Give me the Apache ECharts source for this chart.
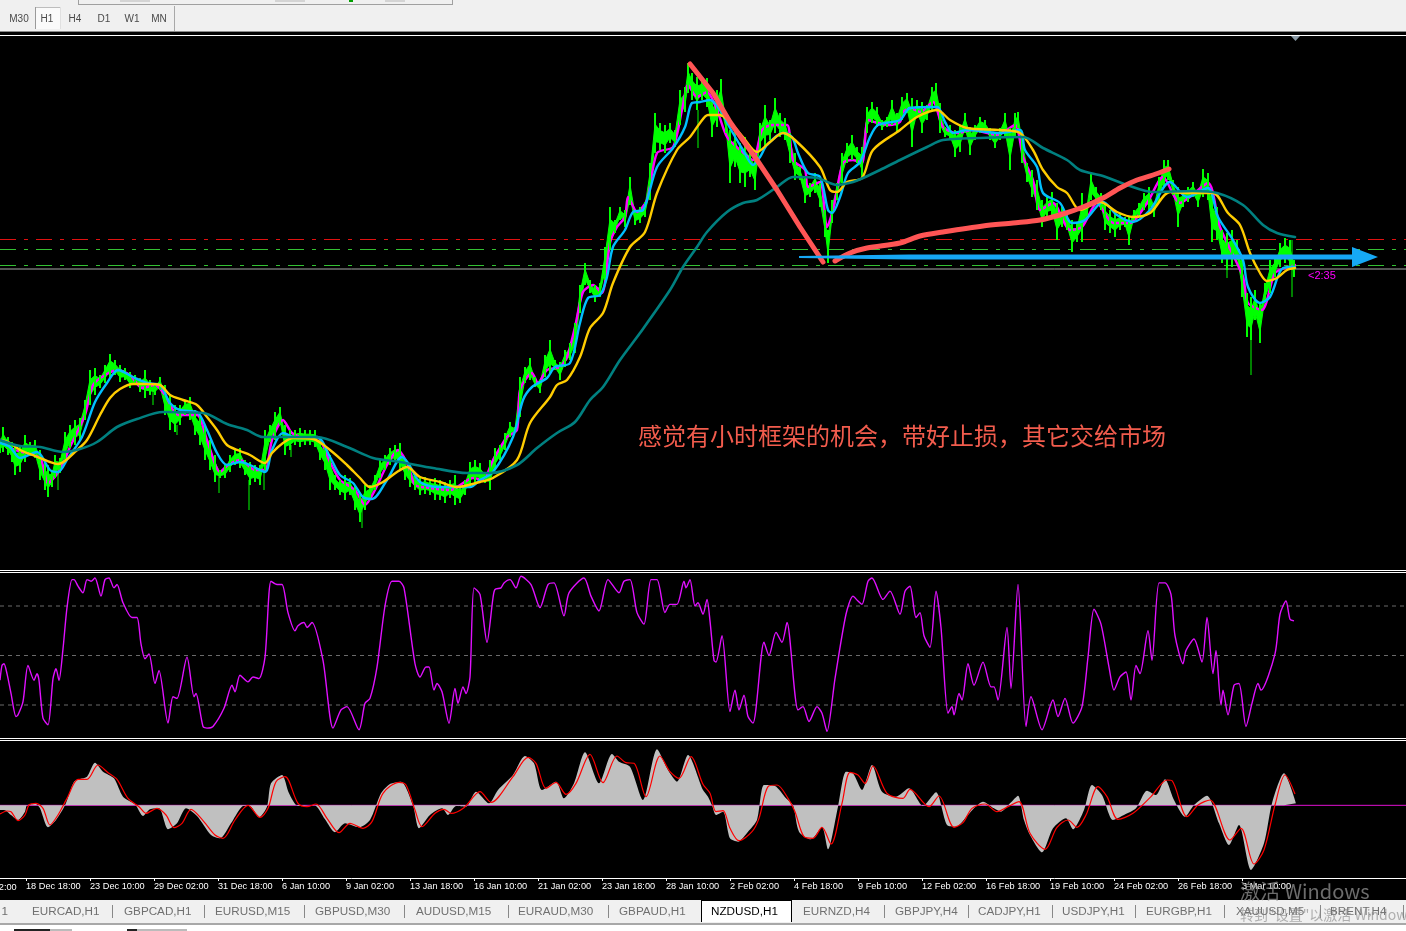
<!DOCTYPE html>
<html><head><meta charset="utf-8">
<style>html,body{margin:0;padding:0;background:#000;overflow:hidden}#c{width:1406px;height:931px}</style>
<script src="https://cdn.jsdelivr.net/npm/echarts@6/dist/echarts.min.js"></script>
</head><body><div id="c"></div>
<script>
// ---- data. X is the bar number (1 bar = one H1 candle). Price pane is in chart units. ----
const clippedFirstTick = [-38,'16 Dec 02:00'];
const timeTicks = [[26,'18 Dec 18:00'],[90,'23 Dec 10:00'],[154,'29 Dec 02:00'],[218,'31 Dec 18:00'],[282,'6 Jan 10:00'],[346,'9 Jan 02:00'],[410,'13 Jan 18:00'],[474,'16 Jan 10:00'],[538,'21 Jan 02:00'],[602,'23 Jan 18:00'],[666,'28 Jan 10:00'],[730,'2 Feb 02:00'],[794,'4 Feb 18:00'],[858,'9 Feb 10:00'],[922,'12 Feb 02:00'],[986,'16 Feb 18:00'],[1050,'19 Feb 10:00'],[1114,'24 Feb 02:00'],[1178,'26 Feb 18:00'],[1242,'3 Mar 10:00']];
const symbolTabs = ['EURCAD,H1','GBPCAD,H1','EURUSD,M15','GBPUSD,M30','AUDUSD,M15','EURAUD,M30','GBPAUD,H1','NZDUSD,H1','EURNZD,H4','GBPJPY,H4','CADJPY,H1','USDJPY,H1','EURGBP,H1','XAUUSD,M5','BRENT,H4'];
const periods = ['M30','H1','H4','D1','W1','MN'];
const noteText = '感觉有小时框架的机会，带好止损，其它交给市场';
const timerText = '<2:35';
// [bar, high, low]
const priceRange = [[0,130,117],[3,143,118],[8,133,115],[12,128,108],[15,125,95],[20,125,98],[25,135,108],[30,128,114],[35,130,112],[40,120,90],[45,108,80],[48,105,73],[52,100,83],[55,115,92],[60,112,97],[65,138,108],[70,145,122],[75,150,125],[80,152,130],[85,170,150],[90,200,165],[95,202,175],[100,195,182],[105,205,187],[110,216,192],[115,210,195],[120,205,188],[125,202,190],[130,198,182],[135,195,185],[140,192,178],[145,200,172],[150,190,175],[155,187,175],[160,193,180],[165,185,155],[170,175,140],[175,165,138],[180,165,145],[185,170,155],[190,173,150],[195,160,135],[200,155,125],[205,145,110],[210,130,100],[215,115,88],[220,100,92],[225,105,92],[230,115,98],[235,120,105],[240,122,102],[245,110,95],[250,108,85],[255,105,88],[260,105,85],[265,140,100],[270,145,128],[275,158,130],[280,163,145],[285,145,115],[290,140,120],[295,140,125],[300,142,123],[305,140,125],[310,140,125],[315,140,123],[320,130,110],[325,125,100],[330,115,80],[335,95,80],[340,90,75],[345,95,70],[350,92,75],[355,85,60],[360,75,48],[365,85,60],[370,85,70],[375,95,80],[380,110,92],[385,115,100],[390,122,105],[395,125,108],[400,127,100],[405,112,90],[410,105,83],[415,95,80],[420,92,75],[425,93,76],[430,91,75],[435,92,70],[440,90,70],[445,88,67],[450,90,72],[455,95,65],[460,82,67],[465,90,75],[470,108,83],[475,110,87],[480,107,87],[485,98,87],[490,110,80],[495,122,100],[500,125,110],[505,137,120],[510,148,133],[515,143,137],[520,193,153],[525,203,187],[530,212,190],[535,193,183],[540,190,177],[545,215,193],[550,230,197],[555,210,200],[560,208,190],[565,220,203],[570,227,210],[575,247,217],[580,285,257],[585,307,285],[590,290,277],[595,285,268],[600,287,273],[605,323,290],[610,363,320],[615,350,337],[620,363,350],[625,360,343],[630,393,365],[635,360,345],[640,363,347],[645,368,353],[650,407,370],[655,457,417],[660,447,420],[665,445,417],[670,447,427],[675,440,423],[680,480,445],[685,483,458],[688,507,477],[692,497,470],[697,493,460],[702,492,470],[707,492,463],[712,470,433],[717,480,443],[721,491,453],[726,453,437],[730,440,387],[735,440,403],[740,427,387],[745,433,383],[750,420,393],[755,413,380],[760,447,420],[765,465,423],[770,450,430],[775,472,437],[780,457,433],[785,452,430],[790,437,407],[795,417,390],[800,403,390],[805,393,367],[810,387,373],[815,397,377],[820,387,363],[825,360,333],[828,340,307],[832,370,347],[837,387,370],[842,417,387],[847,427,407],[852,435,410],[857,423,407],[862,423,392],[867,463,437],[872,468,447],[877,463,443],[882,450,440],[887,453,443],[892,470,445],[897,457,437],[902,473,450],[907,477,457],[912,472,423],[917,470,453],[922,468,437],[927,465,450],[932,483,460],[936,487,462],[940,467,437],[945,443,433],[950,445,430],[955,440,413],[960,445,418],[965,457,437],[970,443,415],[975,445,430],[980,453,437],[985,450,437],[990,442,430],[995,438,422],[1000,442,430],[1005,457,433],[1010,442,400],[1015,457,433],[1018,458,442],[1022,437,407],[1027,407,388],[1032,400,373],[1037,390,360],[1042,370,343],[1047,373,353],[1052,378,353],[1057,367,330],[1062,363,343],[1067,357,340],[1072,350,318],[1077,347,328],[1082,377,328],[1087,367,353],[1091,398,370],[1096,383,367],[1101,377,360],[1105,367,340],[1110,360,337],[1115,357,333],[1120,357,340],[1125,353,343],[1129,353,325],[1134,360,350],[1139,367,353],[1144,377,360],[1149,383,360],[1154,367,353],[1159,393,367],[1164,410,383],[1168,410,390],[1173,390,375],[1178,383,343],[1183,378,363],[1188,383,368],[1193,388,373],[1198,380,363],[1203,401,373],[1208,397,370],[1212,377,328],[1217,363,330],[1222,340,307],[1227,337,300],[1232,340,303],[1237,330,310],[1242,313,273],[1247,277,233],[1251,273,230],[1255,280,250],[1260,267,227],[1265,287,267],[1270,310,277],[1275,313,293],[1280,327,303],[1285,332,307],[1290,330,300],[1294,310,293]];
// thin single-bar wicks: [bar, from, to]
const wicks = [[58,97,80],[153,180,165],[177,145,135],[219,95,77],[249,90,60],[264,100,80],[291,125,113],[362,60,42],[698,460,422],[1227,310,292],[1251,240,195],[1292,330,273]];
const fastLine = [[0,130],[15,120],[40,112],[48,87],[60,100],[70,123],[85,155],[93,185],[105,195],[118,200],[130,195],[142,182],[155,185],[165,175],[178,155],[197,155],[207,130],[220,98],[228,105],[240,110],[255,100],[265,100],[272,130],[283,150],[292,137],[305,132],[317,133],[330,108],[340,90],[355,80],[365,65],[375,80],[387,105],[398,120],[408,105],[415,85],[430,82],[450,80],[473,92],[483,90],[493,110],[507,133],[517,140],[520,180],[532,197],[538,187],[547,200],[560,203],[567,213],[575,243],[583,278],[593,285],[602,277],[610,327],[617,343],[625,353],[628,373],[637,358],[647,370],[657,417],[673,423],[682,460],[688,485],[697,473],[707,478],[717,460],[727,433],[740,420],[753,410],[762,440],[772,445],[787,445],[793,410],[805,400],[808,383],[820,388],[827,343],[833,360],[843,407],[853,410],[862,407],[868,450],[878,447],[890,445],[900,448],[903,458],[910,462],[920,458],[933,468],[943,443],[957,437],[973,440],[997,435],[1015,445],[1023,413],[1033,390],[1040,360],[1053,367],[1070,340],[1082,343],[1097,367],[1113,347],[1130,347],[1147,367],[1163,393],[1180,367],[1208,387],[1220,343],[1243,293],[1248,267],[1262,260],[1275,297],[1288,303],[1295,305]];
const midLine = [[0,127],[10,123],[20,112],[37,118],[50,100],[58,98],[68,112],[82,133],[95,168],[107,187],[118,200],[133,193],[147,187],[160,185],[170,167],[180,160],[197,158],[207,140],[217,117],[227,105],[240,108],[250,105],[265,98],[272,120],[283,137],[297,132],[317,133],[330,113],[340,95],[353,87],[363,73],[372,71],[387,90],[402,113],[408,107],[420,88],[440,83],[457,83],[470,83],[480,90],[493,98],[513,133],[523,170],[532,183],[547,192],[555,203],[570,207],[580,247],[588,272],[600,275],[607,293],[613,323],[625,340],[633,358],[643,360],[657,403],[673,422],[685,443],[692,467],[700,468],[710,470],[720,460],[730,442],[743,420],[753,405],[760,413],[767,425],[783,437],[792,433],[798,417],[808,397],[820,393],[828,360],[832,357],[840,373],[848,397],[860,408],[870,433],[878,445],[900,450],[910,462],[937,463],[945,448],[953,437],[967,440],[1000,437],[1020,440],[1025,420],[1037,403],[1043,377],[1060,367],[1072,347],[1085,350],[1103,368],[1117,355],[1133,348],[1150,360],[1170,388],[1187,373],[1208,382],[1218,353],[1233,330],[1243,310],[1248,283],[1260,267],[1270,273],[1283,302],[1295,303]];
const slowLine = [[0,130],[10,127],[20,120],[35,114],[50,108],[58,106],[65,109],[75,118],[87,130],[100,155],[110,172],[120,181],[133,186],[147,186],[160,185],[170,175],[183,170],[197,165],[207,153],[217,140],[227,125],[240,119],[250,115],[265,107],[272,117],[283,127],[293,132],[313,131],[330,120],[347,105],[360,92],[370,83],[383,88],[397,98],[407,103],[420,93],[440,88],[457,83],[480,88],[493,92],[517,110],[530,147],[550,173],[557,185],[567,190],[580,213],[590,242],[603,257],[613,287],[630,323],[645,338],[657,377],[677,420],[690,433],[700,447],[708,455],[720,455],[730,448],[743,433],[757,418],[770,428],[783,437],[795,430],[820,403],[830,380],[837,378],[847,388],[862,392],[873,420],[900,440],[917,453],[937,460],[950,450],[967,442],[1000,440],[1020,437],[1033,420],[1043,400],[1057,383],[1067,377],[1080,360],[1100,368],[1117,358],[1133,353],[1150,357],[1170,378],[1187,377],[1213,377],[1228,357],[1240,345],[1250,317],[1260,297],[1267,289],[1277,292],[1287,300],[1295,302]];
const longLine = [[0,130],[20,124],[40,123],[63,118],[80,121],[97,128],[117,143],[137,151],[163,158],[203,157],[227,146],[247,140],[263,133],[283,133],[317,133],[347,123],[373,112],[400,108],[433,102],[467,97],[490,97],[517,105],[537,122],[557,137],[575,148],[590,170],[603,183],[620,210],[640,237],[670,280],[683,303],[697,323],[707,338],[727,358],[743,367],[757,370],[777,383],[793,393],[817,392],[837,385],[853,388],[863,392],[880,400],[900,410],[927,423],[943,430],[980,432],[1023,433],[1043,422],[1067,410],[1080,400],[1103,394],[1127,385],[1153,378],[1193,379],[1217,377],[1243,365],[1263,345],[1277,337],[1295,333]];
const redLevel = 330.5, greenLevelHigh = 320.5, greenLevelLow = 304.5, bidLevel = 301;
const drawnDown = [[690,506],[713,477],[730,448],[757,410],[777,380],[800,343],[823,308]];
const drawnUp = [[835,309],[850,317],[867,322],[900,327],[920,334],[943,338],[983,344],[1013,347],[1040,350],[1063,356],[1083,363],[1103,372],[1120,382],[1137,390],[1153,395],[1169,401]];
const arrowStart = [799,313], arrowEnd = [1378,313];
const stochLevels = [80,50,20];
const stoch = [[0,35],[2,44],[4,45],[7,39],[11,27],[16,13],[18,14],[23,22],[28,44],[34,35],[37,39],[39,35],[43,12],[48,8],[53,36],[56,42],[59,35],[63,54],[67,79],[72,96],[74,96],[78,92],[83,88],[87,96],[91,95],[95,97],[101,86],[105,96],[109,97],[114,91],[117,93],[123,82],[132,73],[137,73],[141,57],[145,48],[149,51],[155,33],[159,41],[168,9],[173,25],[177,24],[187,49],[194,25],[196,27],[203,7],[207,6],[213,7],[224,18],[232,32],[235,28],[240,38],[248,34],[253,37],[259,36],[265,49],[271,95],[277,93],[282,93],[288,76],[295,65],[298,68],[304,70],[307,67],[312,70],[323,47],[333,6],[341,17],[347,19],[359,5],[365,21],[370,24],[377,43],[385,80],[392,95],[399,95],[404,91],[415,45],[420,37],[426,43],[429,43],[434,29],[437,33],[442,28],[449,9],[455,30],[458,21],[463,31],[466,27],[470,37],[474,91],[480,87],[487,58],[493,85],[495,90],[501,91],[504,94],[510,96],[516,91],[521,98],[531,93],[540,79],[548,93],[554,94],[564,74],[569,88],[584,97],[591,86],[599,77],[608,96],[619,88],[624,95],[630,96],[637,76],[644,69],[651,96],[657,96],[665,76],[670,81],[677,81],[684,95],[686,91],[690,96],[695,80],[698,82],[703,75],[707,84],[710,71],[714,47],[716,46],[722,62],[730,16],[735,29],[739,17],[744,26],[748,13],[753,9],[764,58],[769,50],[776,64],[782,58],[787,70],[798,17],[803,19],[809,10],[817,19],[822,15],[827,4],[835,36],[846,75],[853,86],[858,83],[862,81],[868,95],[872,97],[883,84],[890,89],[900,75],[905,89],[910,92],[916,73],[920,76],[924,62],[930,55],[936,89],[941,67],[948,15],[952,19],[954,14],[959,27],[962,23],[968,45],[974,32],[983,46],[991,31],[994,31],[998,23],[1007,67],[1011,30],[1018,93],[1026,7],[1031,25],[1042,5],[1053,23],[1058,13],[1065,24],[1073,9],[1082,19],[1088,49],[1094,78],[1101,69],[1109,43],[1114,29],[1120,37],[1126,40],[1131,23],[1136,44],[1140,39],[1148,65],[1152,47],[1159,94],[1165,94],[1171,87],[1175,62],[1183,45],[1186,53],[1194,60],[1202,46],[1207,73],[1213,39],[1216,53],[1221,20],[1223,29],[1228,14],[1234,32],[1239,33],[1246,7],[1252,21],[1258,33],[1261,29],[1275,51],[1280,75],[1286,83],[1290,72],[1294,71]];
const macdHist = [[0,-14],[4,-14],[11,-29],[18,-44],[25,-19],[27,0],[36,4],[40,-9],[48,-66],[56,-44],[65,0],[74,71],[80,79],[87,86],[95,128],[103,101],[114,81],[123,26],[135,3],[143,-32],[150,-12],[159,-9],[168,-72],[177,-54],[186,-9],[197,-32],[211,-89],[220,-99],[231,-54],[244,-1],[251,-4],[259,-36],[267,-4],[271,66],[282,91],[289,36],[298,-2],[314,1],[325,-42],[335,-81],[345,-54],[359,-66],[370,-44],[381,36],[390,64],[401,71],[413,0],[419,-69],[430,-29],[442,-9],[448,-29],[456,-2],[466,-4],[476,41],[489,6],[498,46],[513,91],[525,148],[534,126],[542,46],[556,71],[564,21],[574,66],[585,159],[599,66],[612,154],[619,131],[630,116],[643,16],[657,168],[668,106],[677,71],[688,151],[703,46],[708,26],[712,0],[716,-29],[723,-19],[730,-99],[738,-109],[748,-79],[757,-44],[764,61],[775,58],[786,21],[793,0],[799,-79],[811,-102],[822,-66],[828,-132],[838,-4],[846,101],[853,96],[862,46],[872,121],[882,41],[896,26],[909,51],[923,-2],[936,39],[947,-59],[956,-64],[968,-29],[974,-9],[983,11],[994,-9],[1001,-19],[1010,6],[1018,29],[1024,-44],[1030,-89],[1042,-141],[1053,-69],[1066,-39],[1073,-72],[1084,-14],[1092,61],[1102,31],[1113,-44],[1124,-29],[1136,-9],[1147,44],[1156,31],[1165,78],[1174,16],[1185,-34],[1194,1],[1207,29],[1219,-54],[1229,-119],[1239,-59],[1251,-194],[1264,-114],[1272,6],[1284,96],[1296,6]];
const macdSignal = [[0,-26],[7,-17],[11,-19],[18,-46],[25,-29],[29,1],[36,6],[43,-9],[50,-59],[58,-29],[67,21],[78,78],[87,78],[98,121],[108,98],[117,78],[128,21],[139,-4],[146,-24],[157,-9],[166,-29],[174,-67],[182,-54],[191,-12],[202,-42],[215,-89],[223,-99],[235,-44],[248,0],[260,-36],[268,-9],[276,71],[285,86],[298,6],[307,-4],[316,4],[327,-39],[339,-82],[350,-54],[363,-69],[372,-49],[383,36],[399,69],[406,61],[415,-14],[422,-64],[435,-24],[444,-12],[451,-24],[464,-7],[480,41],[491,9],[513,86],[528,144],[536,126],[546,51],[556,69],[566,33],[576,66],[590,153],[603,68],[617,148],[626,128],[634,126],[646,26],[660,148],[670,101],[679,81],[691,146],[703,63],[710,36],[716,-19],[723,-16],[730,-69],[739,-106],[752,-79],[759,-39],[768,56],[777,61],[788,21],[795,-19],[804,-94],[813,-99],[822,-66],[831,-116],[842,6],[850,99],[858,91],[865,66],[873,118],[887,36],[903,21],[910,48],[929,-4],[939,28],[954,-66],[963,-52],[972,-9],[985,4],[997,-19],[1008,-4],[1019,11],[1030,-84],[1045,-132],[1057,-66],[1068,-44],[1077,-66],[1086,-29],[1098,56],[1107,26],[1118,-42],[1133,-24],[1151,26],[1167,76],[1172,74],[1187,-34],[1198,1],[1210,16],[1230,-104],[1241,-69],[1254,-176],[1264,-134],[1275,1],[1285,91],[1295,34]];

// ---- layout & style ----
const X_MIN=0, X_MAX=1406;
const LAB='"Liberation Sans",Arial,sans-serif';
const tabX=[32,124,215,315,416,518,619,711,803,895,978,1062,1146,1236,1330];
const tabSeps=[112,204,304,404,508,608,884,968,1052,1135,1224,1320,1403];
const periodX=[19,47,75,104,132,159];
const tickLabel = Object.fromEntries(timeTicks);

const rect=(x,y,w,h,fill,z)=>({type:'rect',shape:{x,y,width:w,height:h},style:{fill},z:z||1,silent:true});
const txt=(x,y,text,font,fill,align,z)=>({type:'text',x,y,style:{text,font,fill,textAlign:align||'left',textVerticalAlign:'middle'},z:z||5,silent:true});
const g=[
  rect(0,0,1406,31,'#f0f0f0'),
  rect(78,4,375,1,'#a0a0a0',2), rect(78,0,1,4,'#a0a0a0',2), rect(452,0,1,5,'#a0a0a0',2),
  rect(349,0,4,2,'#00a000',2), rect(120,0,30,2,'#d4d4d4',2), rect(275,0,30,2,'#d4d4d4',2), rect(385,0,20,2,'#d4d4d4',2),
  rect(35,7,25,22,'#fafafa',2), rect(35,7,25,1,'#bdbdbd',3), rect(35,7,1,22,'#9a9a9a',3), rect(60,7,1,22,'#e0e0e0',3),
  rect(174,6,1,25,'#a8a8a8',2),
  rect(0,31,1406,1,'#8a8a8a',2), rect(0,32,1406,3,'#000',2), rect(0,35,1406,1,'#fff',2),
  {type:'polygon',shape:{points:[[1291,36],[1300,36],[1295.5,41]]},style:{fill:'#8a9aa6'},z:6,silent:true},
  rect(0,570,1406,1,'#fff',6), rect(0,572,1406,1,'#fff',6),
  rect(0,738,1406,1,'#fff',6), rect(0,740,1406,1,'#fff',6),
  rect(0,900,1406,23,'#f0f0f0'), rect(0,923,1406,2,'#a8a8a8'), rect(0,925,1406,6,'#fff'),
  rect(14,929,36,2,'#222',2), rect(50,929,22,2,'#bbb',2), rect(127,929,10,2,'#222',2), rect(137,929,50,2,'#bbb',2),
  rect(701,900,91,22,'#fff',2), rect(701,900,91,1,'#000',3), rect(701,900,1,22,'#000',3), rect(791,900,1,22,'#000',3),
  txt(8,912,'1','11.7px '+LAB,'#6e6e6e','right',5),
  txt(clippedFirstTick[0],887,clippedFirstTick[1],'9.2px '+LAB,'#fff','left',5),
  txt(1308,276,timerText,'11px '+LAB,'#ff00ff','left',7),
  txt(638,436,noteText,'24px "Noto Sans CJK SC"','#f25c4d','left',9),
  txt(1240,891,'激活 Windows','20px "Noto Sans CJK SC"','rgba(150,150,150,.72)','left',20),
  txt(1240,915,'转到"设置"以激活 Windows','14px "Noto Sans CJK SC"','rgba(130,130,130,.6)','left',20)
];
periods.forEach((p,i)=>g.push(txt(periodX[i],19,p,'10px '+LAB,'#4a4a4a','center',5)));
symbolTabs.forEach((t,i)=>g.push(txt(tabX[i],912,t,'11.7px '+LAB,t==='NZDUSD,H1'?'#000':'#707070','left',5)));
tabSeps.forEach(x=>g.push(rect(x,905,1,13,'#888',3)));

const axisX=i=>({type:'value',gridIndex:i,min:X_MIN,max:X_MAX,show:false,splitLine:{show:false}});
const axisY=(i,min,max)=>({type:'value',gridIndex:i,min,max,show:false,splitLine:{show:false}});
const lineS=(data,color,width,z,smooth)=>({type:'line',xAxisIndex:0,yAxisIndex:0,data,showSymbol:false,symbol:'none',silent:true,animation:false,z,smooth:smooth||false,lineStyle:{color,width,cap:'round',join:'round'}});
const hline=(v,color,dash,ax,width)=>({type:'line',xAxisIndex:ax,yAxisIndex:ax,showSymbol:false,symbol:'none',silent:true,animation:false,z:2,data:[[X_MIN,v],[X_MAX,v]],lineStyle:{color,width:width||1,type:dash}});

const green='#00ff00';
const series=[
  hline(redLevel,'#e01010',[16,8,4,8],0), hline(greenLevelHigh,'#33c033',[16,8,4,8],0), hline(greenLevelLow,'#33c033',[16,8,4,8],0), hline(bidLevel,'#a8a8a8','solid',0),
  // the solid middle of the bars' range
  {type:'custom',xAxisIndex:0,yAxisIndex:0,silent:true,animation:false,z:3,data:priceRange,encode:{x:0,y:[1,2]},
   renderItem(params,api){
     const i=params.dataIndex; if(i>=priceRange.length-1) return null;
     const a=priceRange[i],b=priceRange[i+1];
     const inset=r=>(r[1]-r[2])*0.28;
     return {type:'polygon',shape:{points:[api.coord([a[0],a[1]-inset(a)]),api.coord([b[0],b[1]-inset(b)]),api.coord([b[0],b[2]+inset(b)]),api.coord([a[0],a[2]+inset(a)])]},style:{fill:green,stroke:green,lineWidth:1}};
   }},
  lineS(fastLine,'#ff00ff',2.4,3.5,0.25),
  // the high-low sticks, over the fast line
  {type:'custom',xAxisIndex:0,yAxisIndex:0,silent:true,animation:false,z:4,data:priceRange,encode:{x:0,y:[1,2]},
   renderItem(params,api){
     const r=priceRange[params.dataIndex],p=api.coord([r[0],r[1]]),q=api.coord([r[0],r[2]]);
     return {type:'line',shape:{x1:p[0],y1:p[1],x2:q[0],y2:q[1]},style:{stroke:green,lineWidth:2}};
   }},
  {type:'custom',xAxisIndex:0,yAxisIndex:0,silent:true,animation:false,z:4,data:wicks,encode:{x:0,y:[1,2]},
   renderItem(params,api){
     const w=wicks[params.dataIndex],p=api.coord([w[0],w[1]]),q=api.coord([w[0],w[2]]);
     return {type:'line',shape:{x1:p[0],y1:p[1],x2:q[0],y2:q[1]},style:{stroke:green,lineWidth:1}};
   }},
  lineS(midLine,'#00bfff',2.4,5,0.3),
  lineS(slowLine,'#ffcc00',2.4,5,0.3),
  lineS(longLine,'#008080',2.6,5,0.3),
  lineS(drawnDown,'#ff5555',5,7),
  lineS(drawnUp,'#ff5555',5,7,0.3),
  {type:'custom',xAxisIndex:0,yAxisIndex:0,silent:true,animation:false,z:8,clip:false,data:[arrowStart],encode:{x:0,y:1},
   renderItem(params,api){
     const a=api.coord(arrowStart),t=api.coord(arrowEnd),sx=t[0]-26,y=a[1];
     return {type:'polygon',shape:{points:[[a[0],y-1],[a[0]+110,y-2.5],[sx,y-2.5],[sx,y-10],[t[0],y],[sx,y+10],[sx,y+2.5],[a[0]+110,y+2.5],[a[0],y+1]]},style:{fill:'#16a8f5'}};
   }},
  ...stochLevels.map(v=>hline(v,'#6a6a6a',[4,4],1)),
  {type:'line',xAxisIndex:1,yAxisIndex:1,data:stoch,symbol:'none',silent:true,animation:false,z:4,smooth:0.25,lineStyle:{color:'#e010ff',width:1.4}},
  {type:'line',xAxisIndex:2,yAxisIndex:2,data:macdHist,symbol:'none',silent:true,animation:false,z:3,smooth:0.25,lineStyle:{width:0},areaStyle:{color:'#c0c0c0',opacity:1}},
  hline(0,'#e010d0','solid',2),
  {type:'line',xAxisIndex:2,yAxisIndex:2,data:macdSignal,symbol:'none',silent:true,animation:false,z:5,smooth:0.3,lineStyle:{color:'#ff0000',width:1.2}}
];

const chart=echarts.init(document.getElementById('c'),null,{renderer:'canvas'});
chart.setOption({
  backgroundColor:'#000',animation:false,
  grid:[{left:0,right:0,top:35,height:535},{left:0,right:0,top:573,height:165},{left:0,right:0,top:741,height:137}],
  xAxis:[axisX(0),axisX(1),{
    type:'value',gridIndex:2,min:X_MIN,max:X_MAX,position:'bottom',
    splitLine:{show:false},
    axisLine:{show:true,onZero:false,lineStyle:{color:'#fff',width:1}},
    axisTick:{show:true,customValues:timeTicks.map(t=>t[0]),length:3,lineStyle:{color:'#fff'}},
    axisLabel:{show:true,customValues:timeTicks.map(t=>t[0]),color:'#fff',fontFamily:LAB,fontSize:9.2,margin:4,align:'left',formatter:v=>tickLabel[v]||''}
  }],
  yAxis:[axisY(0,0,535),axisY(1,0,100),axisY(2,-218,193)],
  graphic:{elements:g},
  series
});
</script></body></html>
